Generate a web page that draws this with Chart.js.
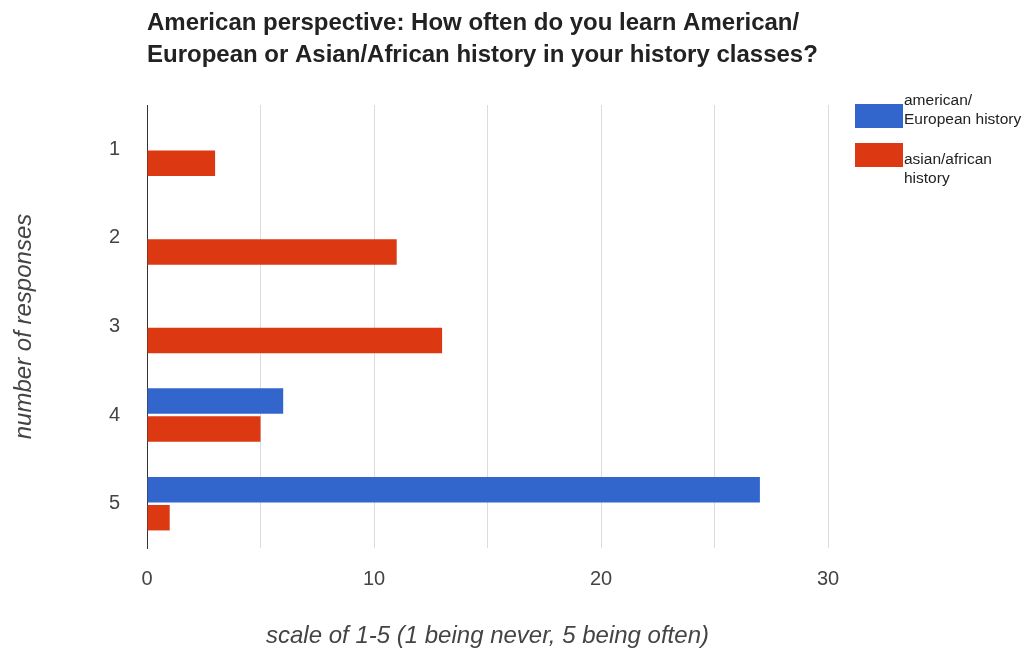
<!DOCTYPE html>
<html>
<head>
<meta charset="utf-8">
<title>History classes survey</title>
<script src="https://cdn.jsdelivr.net/npm/chart.js@4.4.0/dist/chart.umd.min.js"></script>
<style>
  html, body { margin: 0; padding: 0; background: #fff; }
  #wrap { position: relative; width: 1025px; height: 648px; }
</style>
</head>
<body>
<div id="wrap"><canvas id="chart" width="1025" height="648"></canvas></div>
<script>
/* ── Data ─────────────────────────────────────────────── */
const categories = ["1", "2", "3", "4", "5"];
const americanEuropean = [0, 0, 0, 6, 27];
const asianAfrican = [3, 11, 13, 5, 1];
const seriesLabels = ["american/\nEuropean history", "asian/african\nhistory"];
const xTickLabels = { 0: "0", 10: "10", 20: "20", 30: "30" };

const titleLines = [
  "American perspective: How often do you learn American/",
  "European or Asian/African history in your history classes?",
];

const BLUE = "#3366cc";
const RED = "#dc3912";
const FONT = "'Liberation Sans', Arial, sans-serif";

/* ── Title + legend drawn straight onto the canvas ────── */
const decorations = {
  id: "decorations",
  afterDraw(chart) {
    const ctx = chart.ctx;
    ctx.save();

    // Title, left aligned with the plot area
    ctx.fillStyle = "#222";
    ctx.font = `bold 24px ${FONT}`;
    ctx.textBaseline = "alphabetic";
    ctx.textAlign = "left";
    titleLines.forEach((line, i) => ctx.fillText(line, chart.chartArea.left, 30 + i * 32));

    // Legend, top right: swatch + two-line label
    ctx.font = `15.5px ${FONT}`;
    const textTop = [105, 164];
    chart.data.datasets.forEach((ds, i) => {
      const y = 104 + i * 39;
      ctx.fillStyle = ds.backgroundColor;
      ctx.fillRect(855, y, 48, 24);
      ctx.fillStyle = "#222";
      ds.label.split("\n").forEach((t, j) => ctx.fillText(t, 904, textTop[i] + j * 19));
    });

    ctx.restore();
  },
};

new Chart(document.getElementById("chart"), {
  type: "bar",
  data: {
    labels: categories,
    datasets: [
      { label: seriesLabels[0], data: americanEuropean, backgroundColor: BLUE },
      { label: seriesLabels[1], data: asianAfrican, backgroundColor: RED },
    ],
  },
  options: {
    indexAxis: "y",
    responsive: false,
    animation: false,
    layout: { padding: { top: 105, right: 197, left: 0, bottom: 0 } },
    datasets: { bar: { categoryPercentage: 0.632, barPercentage: 0.91 } },
    plugins: {
      legend: { display: false },
      tooltip: { enabled: false },
    },
    scales: {
      x: {
        min: 0,
        max: 30,
        afterFit: (scale) => { scale.height = 100; },
        ticks: {
          stepSize: 5,
          autoSkip: false,
          maxRotation: 0,
          padding: 19,
          color: "#444",
          font: { family: FONT, size: 20 },
          callback: (v) => xTickLabels[v] ?? "",
        },
        grid: {
          color: (c) => (c.tick && c.tick.value === 0 ? "#333" : "#dcdcdc"),
          lineWidth: 1,
          drawTicks: false,
        },
        border: { display: false },
        title: {
          display: true,
          text: "scale of 1-5 (1 being never, 5 being often)",
          color: "#444",
          font: { family: FONT, size: 24, style: "italic", lineHeight: 1.0 },
          padding: { top: 0, bottom: 0 },
        },
      },
      y: {
        afterFit: (scale) => { scale.width = 147; },
        ticks: {
          padding: 27,
          color: "#444",
          font: { family: FONT, size: 20 },
        },
        grid: { display: false, drawTicks: false },
        border: { display: true, color: "#333", width: 1 },
        title: {
          display: true,
          text: "number of responses",
          color: "#444",
          font: { family: FONT, size: 24, style: "italic" },
          padding: { top: 10, bottom: 0 },
        },
      },
    },
  },
  plugins: [decorations],
});
</script>
</body>
</html>
